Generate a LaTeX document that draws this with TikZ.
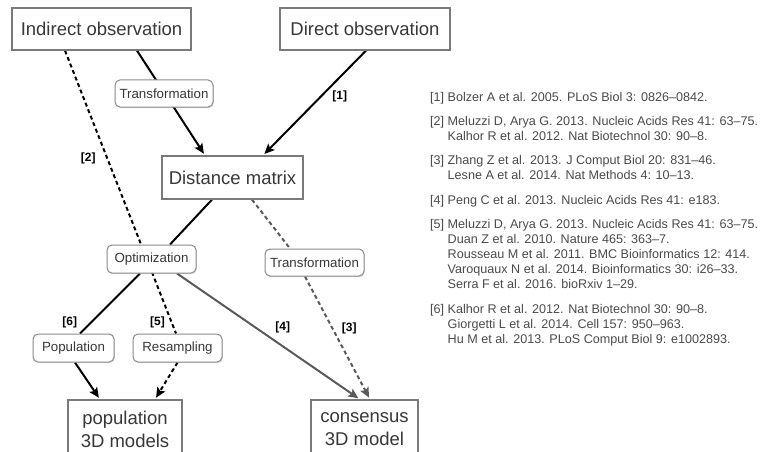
\documentclass[tikz,border=0pt]{standalone}
\usepackage{fontspec}
\setmainfont{Liberation Sans}
\usetikzlibrary{arrows.meta,shadows,backgrounds,calc}
\definecolor{boxline}{HTML}{7A7A7A}
\definecolor{tagline}{HTML}{8A8A8A}
\definecolor{txt}{HTML}{383838}
\definecolor{reftxt}{HTML}{4A4A4A}
\definecolor{darkline}{HTML}{5A5A5A}
\begin{document}
\begin{tikzpicture}[x=1pt,y=-1pt,
 mainbox/.style={draw=boxline, line width=1.2pt, fill=white, text=txt, font=\fontsize{18.5}{23}\selectfont, inner sep=0pt, align=center},
 tagbox/.style={draw=tagline, line width=1pt, rounded corners=5pt, fill=white, text=txt, font=\fontsize{13.3}{15}\selectfont, inner sep=0pt, drop shadow={shadow xshift=0.8pt, shadow yshift=-1.2pt, opacity=0.25}},
 link/.style={line width=2pt},
 tip/.style={-{Stealth[length=10pt,width=9pt,inset=2pt]}},
 dashline/.style={dash pattern=on 4pt off 3pt},
 num/.style={font=\bfseries\fontsize{12}{14}\selectfont, inner sep=0pt, text=black},
 ref/.style={anchor=base west, font=\fontsize{12.6}{15}\selectfont, text=reftxt, inner sep=0pt}]

\useasboundingbox (0,0) rectangle (763,452);

% main boxes
\node[mainbox, minimum width=179pt, minimum height=42pt] (ind) at (101.5,29) {Indirect observation};
\node[mainbox, minimum width=170pt, minimum height=42pt] (dir) at (365,29) {Direct observation};
\node[mainbox, minimum width=141pt, minimum height=43pt] (dist) at (232.5,177.5) {Distance matrix};
\node[mainbox, minimum width=114pt, minimum height=59pt] (pop3d) at (125,429.5) {population\\3D models};
\node[mainbox, minimum width=107pt, minimum height=59pt] (cons) at (364.5,429.5) {consensus\\3D model};

% rounded method boxes
\node[tagbox, minimum width=98pt, minimum height=27pt] (t1) at (164,93.5) {Transformation};
\node[tagbox, minimum width=89pt, minimum height=28pt] (opt) at (151.5,259) {Optimization};
\node[tagbox, minimum width=99pt, minimum height=27pt] (t2) at (314.5,262.5) {Transformation};
\node[tagbox, minimum width=81pt, minimum height=28pt] (popl) at (73.5,348) {Population};
\node[tagbox, minimum width=89pt, minimum height=28pt] (res) at (177.5,348) {Resampling};

\begin{pgfonlayer}{background}
\draw[link,tip,shorten >=2pt] ([xshift=35.5pt]ind.south) -- ([xshift=-27.5pt]dist.north);
\draw[link,tip,shorten >=2pt] ([xshift=1pt]dir.south) -- ([xshift=30.5pt]dist.north)
  node[num,pos=0.44,xshift=19pt] (l1) {[1]};
\draw[link,dashline] ([xshift=-36.5pt]ind.south) -- ([xshift=-1.5pt]res.north)
  node[num,pos=0.38,xshift=-19pt] (l2) {[2]}
  node[num,pos=0.96,xshift=-14pt] (l5) {[5]};
\draw[link,dashline,tip,shorten >=2pt] (res.south) -- ([xshift=30pt]pop3d.north);
\draw[link] ([xshift=-20.5pt]dist.south) -- ([xshift=18.5pt]opt.north);
\draw[link] ([xshift=-11.5pt]opt.south) -- ([xshift=6.5pt]popl.north)
  node[num,pos=0.82,xshift=-21pt] (l6) {[6]};
\draw[link,tip,shorten >=2pt] ([xshift=1.5pt]popl.south) -- ([xshift=-25pt]pop3d.north);
\draw[link,dashline,darkline] ([xshift=19.5pt]dist.south) -- ([xshift=-24.5pt]t2.north);
\draw[link,dashline,darkline,tip,shorten >=2pt] ([xshift=-9.5pt]t2.south) -- ([xshift=5.5pt]cons.north)
  node[num,pos=0.42,xshift=17pt] (l3) {[3]};
\draw[link,darkline,tip,shorten >=2pt] ([xshift=25.5pt]opt.south) -- ([xshift=-4.5pt]cons.north)
  node[num,pos=0.43,xshift=27pt] (l4) {[4]};
\end{pgfonlayer}

% references
\node[ref] (r1) at (430,101.5) {[1] Bolzer A et al. 2005. PLoS Biol 3: 0826–0842.};
\node[ref] (r2a) at (430,125.5) {[2] Meluzzi D, Arya G. 2013. Nucleic Acids Res 41: 63–75.};
\node[ref] (r2b) at (430,140.5) {\phantom{[2] }Kalhor R et al. 2012. Nat Biotechnol 30: 90–8.};
\node[ref] (r3a) at (430,164.5) {[3] Zhang Z et al. 2013. J Comput Biol 20: 831–46.};
\node[ref] (r3b) at (430,179.5) {\phantom{[3] }Lesne A et al. 2014. Nat Methods 4: 10–13.};
\node[ref] (r4) at (430,204.5) {[4] Peng C et al. 2013. Nucleic Acids Res 41: e183.};
\node[ref] (r5a) at (430,228.5) {[5] Meluzzi D, Arya G. 2013. Nucleic Acids Res 41: 63–75.};
\node[ref] (r5b) at (430,243.5) {\phantom{[5] }Duan Z et al. 2010. Nature 465: 363–7.};
\node[ref] (r5c) at (430,258.5) {\phantom{[5] }Rousseau M et al. 2011. BMC Bioinformatics 12: 414.};
\node[ref] (r5d) at (430,273.5) {\phantom{[5] }Varoquaux N et al. 2014. Bioinformatics 30: i26–33.};
\node[ref] (r5e) at (430,288.5) {\phantom{[5] }Serra F et al. 2016. bioRxiv 1–29.};
\node[ref] (r6a) at (430,313.5) {[6] Kalhor R et al. 2012. Nat Biotechnol 30: 90–8.};
\node[ref] (r6b) at (430,328.5) {\phantom{[6] }Giorgetti L et al. 2014. Cell 157: 950–963.};
\node[ref] (r6c) at (430,343.5) {\phantom{[6] }Hu M et al. 2013. PLoS Comput Biol 9: e1002893.};
\end{tikzpicture}
\end{document}
